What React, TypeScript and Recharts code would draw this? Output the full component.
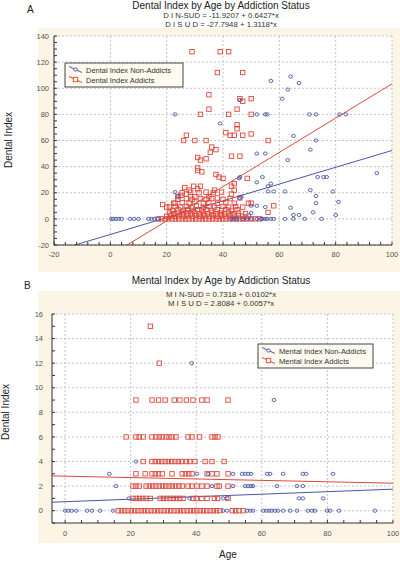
import React from 'react';
import { ScatterChart, Scatter, XAxis, YAxis, CartesianGrid, ReferenceLine } from 'recharts';

const FONT = '"Liberation Sans", Arial, sans-serif';
const BLUE = '#4a56a6';
const RED = '#e0483c';
const TICK_COLOR = '#555';
const AXIS = '#333';

// ---------- Chart A: Dental Index ----------
const dentalTitle = 'Dental Index by Age by Addiction Status';
const dentalEq = ['D I N-SUD = -11.9207 + 0.6427*x', 'D I S U D = -27.7948 + 1.3118*x'];
const dentalNonSlope = [-11.9207, 0.6427];
const dentalSudSlope = [-27.7948, 1.3118];
const dentalLegend = ['Dental Index Non-Addicts', 'Dental Index Addicts'];

const dentalNonAddicts: [number, number][] = [
  [0.4, 0], [1, 0], [2, 0], [3, 0], [4, 0], [7, 0], [8.5, 0], [10, 0], [13.5, 0], [14.6, 0], [15.7, 0], [17, 0],
  [43, 0], [44, 0], [45, 0], [47, 0], [48.6, 0], [50, 0], [52, 0], [53.5, 0], [54, 0], [55, 0], [55.7, 0], [57, 0], [58, 0],
  [62, 0], [65, 0], [69, 0], [75, 0],
  [23, 20.5], [24, 17], [45.7, 31], [46, 16], [23, 80], [39, 73], [46, 91], [57, 105.6], [64, 109], [67, 104], [63, 99],
  [61, 92], [52, 80], [55, 80], [55.7, 80], [70.7, 80], [73, 80], [81.4, 80], [83.6, 80], [65, 63.5], [73, 60], [52, 50],
  [55, 50], [71, 53], [63, 45], [46, 32], [54, 32], [73.6, 32], [75.7, 32], [76.8, 32], [94.6, 35], [52, 28], [57, 27],
  [56, 25], [56, 21], [58, 21], [62, 21], [71, 22], [73, 17.5], [79, 21], [81, 13], [73, 12], [50, 10], [52, 10], [55, 9],
  [64, 8.5], [72, 5], [50, 4.5], [65, 3], [67, 3], [80, 3], [46.5, 17],
];

const dentalAddicts: [number, number][] = [
  [29, 128], [39, 128], [42, 128], [38, 112], [47, 112], [35, 95], [46, 92], [47, 90], [50, 92], [35, 84], [45, 84],
  [32, 80], [42, 80], [50, 80], [45, 72], [45, 69], [41, 66], [42.5, 64], [27, 64], [26, 60], [30, 60], [34, 60], [56, 60],
  [44, 64], [47, 64], [50, 65], [36, 55], [37.5, 53], [35.5, 51], [31, 47], [32, 45], [34, 46], [43, 48], [46, 48],
  [31, 39], [31, 37], [32.5, 36], [37.5, 34], [38.6, 32], [40, 31], [48.6, 31], [44, 27], [29.6, 25], [32, 25], [31, 23],
  [26.4, 24], [28, 22], [43, 25], [44, 22], [43, 19], [37, 22], [35, 17], [38, 16], [25, 18], [27, 19], [28.5, 17],
  [30, 17], [24, 17], [46, 16], [49, 12], [50, 12], [58, 10], [56, 5], [18.6, 11], [21, 9], [23, 12],
  // dense low region
  [17, 0], [18.3, 0], [19.5, 0], [20.7, 0], [21.9, 0], [23.1, 0], [24.3, 0], [25.5, 0], [26.7, 0], [27.9, 0], [29.1, 0],
  [30.3, 0], [31.5, 0], [32.7, 0], [33.9, 0], [35.1, 0], [36.3, 0], [37.5, 0], [38.7, 0], [39.9, 0], [41.1, 0], [42.3, 0],
  [43.5, 0], [44.7, 0], [45.9, 0], [47.1, 0], [48.3, 0], [50, 0], [51.5, 0], [53, 0],
  [20, 2], [21.5, 2.5], [23, 2], [24.5, 2.5], [26, 2], [27.5, 2.5], [29, 2], [30.5, 2.5], [32, 2], [33.5, 2.5], [35, 2],
  [36.5, 2.5], [38, 2], [39.5, 2.5], [41, 2], [42.5, 2.5], [44, 2], [45.5, 2.5], [47, 2], [49, 2],
  [21, 4.5], [22.5, 4], [24, 4.5], [25.5, 4], [27, 4.5], [28.5, 4], [30, 4.5], [31.5, 4], [33, 4.5], [34.5, 4], [36, 4.5],
  [37.5, 4], [39, 4.5], [40.5, 4], [42, 4.5], [43.5, 4], [45.5, 4.5], [48, 4],
  [22, 6.5], [24, 7], [26, 6.5], [27.5, 7], [29, 6.5], [31, 7], [32.5, 6.5], [34, 7], [36, 6.5], [38, 7], [39.5, 6.5],
  [41, 7], [43, 6.5], [45, 7],
  [20, 9], [23, 9.5], [25, 9], [27, 9.5], [29, 9], [30.5, 10], [33, 9], [35, 9.5], [37, 9], [40, 9.5], [42, 9], [44.5, 9.5], [47, 9],
  [22.5, 12], [25.5, 12.5], [28, 12], [30, 13], [33, 12], [35, 12.5], [38, 12], [41, 12.5], [44, 12],
  [24, 15], [27, 15.5], [29, 15], [32, 15.5], [34, 15], [36, 15.5], [40, 15], [42.5, 15.5],
  [25.5, 20], [28.5, 20.5], [31.5, 20], [34, 20.5], [36.5, 20], [39.5, 20.5],
];

const dentalXTicks = [-20, -16, -12, -8, -4, 0, 4, 8, 12, 16, 20, 24, 28, 32, 36, 40, 44, 48, 52, 56, 60, 64, 68, 72, 76, 80, 84, 88, 92, 96, 100];
const dentalXMajor = [-20, 0, 20, 40, 60, 80, 100];
const dentalYTicks = [-20, -15, -10, -5, 0, 5, 10, 15, 20, 25, 30, 35, 40, 45, 50, 55, 60, 65, 70, 75, 80, 85, 90, 95, 100, 105, 110, 115, 120, 125, 130, 135, 140];
const dentalYMajor = [-20, 0, 20, 40, 60, 80, 100, 120, 140];

// ---------- Chart B: Mental Index ----------
const mentalTitle = 'Mental Index by Age by Addiction Status';
const mentalEq = ['M I N-SUD = 0.7318 + 0.0102*x', 'M I S U D = 2.8084 + 0.0057*x'];
const mentalNonSlope = [0.7318, 0.0102];
const mentalSudSlope = [2.8084, -0.0057];
const mentalLegend = ['Mental Index Non-Addicts', 'Mental Index Addicts'];

const mentalAddictRows: [number, number[]][] = [
  [15, [26]],
  [12, [28.7]],
  [9, [21.6, 26.5, 28.5, 30.5, 33.3, 35, 37, 39, 41.7, 43.3, 49.7]],
  [6, [18.6, 21.6, 22.6, 23.8, 26.5, 27.7, 28.7, 29.6, 30.8, 31.7, 32.6, 33.8, 37.5, 38.7, 41, 44.8, 45.7, 46.6]],
  [4, [23.8, 26.5, 27.5, 28.5, 29.5, 30.5, 31.5, 32.5, 33.5, 34.5, 35.5, 37, 38, 39.6, 42.7, 44.8, 48.5]],
  [3, [21.6, 24.4, 26.5, 27.5, 28.5, 29.6, 32.6, 35.7, 36.7, 37.7, 38.7, 43.3, 44.8, 46.3, 49.7]],
  [2, [20.7, 21.6, 22.6, 24.7, 25.7, 26.7, 27.7, 28.7, 29.7, 30.7, 31.7, 32.7, 33.7, 34.7, 35.7, 37.5, 38.7, 40.2, 41.7, 43.3, 46.3, 47, 49.7]],
  [1, [20.7, 21.7, 22.7, 23.7, 24.7, 26, 29, 30, 31, 32, 33, 34, 35, 36, 39, 40, 41.7, 43.3, 45.5, 46.5, 49.7]],
  [0, [16.2, 17.2, 18.2, 19.2, 20.2, 21.2, 22.2, 23.2, 24.2, 25.2, 26.2, 27.2, 28.2, 29.2, 30.2, 31.2, 32.2, 33.2, 34.2, 35.2,
    36.2, 37.2, 38.2, 39.2, 40.2, 41.2, 42.2, 43.2, 44.2, 45.2, 46.2, 47.2, 51, 52, 53, 54.3]],
];

const mentalNonRows: [number, number[]][] = [
  [12, [38.6]],
  [9, [63.7]],
  [4, [21.6]],
  [3, [13.5, 40.2, 43.6, 51.2, 54, 54.9, 55.8, 56.7, 61.6, 62.5, 66.5, 72.5, 73.5, 81.7]],
  [2, [15.5, 44.8, 51.2, 54.9, 55.8, 56.7, 57.3, 64.6, 70.7, 72.5]],
  [1, [19.5, 38, 48.2, 49.4, 71.3, 72.5, 78.7]],
  [0, [0, 1, 2, 3.4, 6.7, 8.2, 10.7, 14.6, 48.2, 49.4, 55.5, 56.4, 57.3, 60.4, 61.3, 62.2, 63, 64, 64.9, 66.5, 68.6, 70.7,
    74.1, 75.3, 76.2, 79.9, 80.8, 83.5, 94.5]],
];

const mentalXTicks = [0, 5, 10, 15, 20, 25, 30, 35, 40, 45, 50, 55, 60, 65, 70, 75, 80, 85, 90, 95, 100];
const mentalXMajor = [0, 20, 40, 60, 80, 100];
const mentalYTicks = [-1, 0, 1, 2, 3, 4, 5, 6, 7, 8, 9, 10, 11, 12, 13, 14, 15, 16];
const mentalYMajor = [0, 2, 4, 6, 8, 10, 12, 14, 16];

const yLabel = 'Dental Index';
const xLabel = 'Age';

// ---------- helpers ----------
const pairs = (arr: [number, number][]) => arr.map(([x, y]) => ({ x, y }));
const rows = (r: [number, number[]][]) => r.flatMap(([v, ages]) => ages.map((a) => ({ x: a, y: v })));
const fmt = (majors: number[]) => (v: number) => (majors.includes(v) ? String(v) : '');
const none = () => '';

const CircleShape = (p: any) => (
  <ellipse cx={p.cx} cy={p.cy} rx={1.9} ry={1.6} fill="none" stroke={BLUE} strokeWidth={0.9} />
);
const SquareShape = (p: any) => (
  <rect x={p.cx - 2.2} y={p.cy - 2.2} width={4.4} height={4.4} fill="none" stroke={RED} strokeWidth={0.9} />
);

const tickStyle = { fontSize: 7.5, fill: TICK_COLOR, fontFamily: FONT };

type PanelProps = {
  height: number;
  top: number;
  marginTop: number;
  marginRight: number;
  yAxisWidth: number;
  xAxisHeight: number;
  xDomain: [number, number];
  yDomain: [number, number];
  xTicks: number[];
  xMajor: number[];
  yTicks: number[];
  yMajor: number[];
  xTickMargin: number;
  yTickMargin: number;
  addicts: { x: number; y: number }[];
  nonAddicts: { x: number; y: number }[];
  nonLine: number[];
  sudLine: number[];
};

function Panel(p: PanelProps) {
  const [x0, x1] = p.xDomain;
  return (
    <div style={{ position: 'absolute', left: 0, top: p.top }}>
      <ScatterChart width={400} height={p.height} margin={{ top: p.marginTop, right: p.marginRight, bottom: 0, left: 0 }}>
        <CartesianGrid
          fill="#ffffff"
          fillOpacity={1}
          stroke="#c4c4c4"
          strokeDasharray="2 2"
          verticalValues={p.xMajor}
          horizontalValues={p.yMajor}
        />
        <XAxis
          type="number"
          dataKey="x"
          domain={p.xDomain}
          allowDataOverflow
          ticks={p.xTicks}
          interval={0}
          height={p.xAxisHeight}
          tickSize={-3}
          tickMargin={p.xTickMargin}
          tickFormatter={fmt(p.xMajor)}
          tick={tickStyle}
          stroke={AXIS}
        />
        <XAxis
          xAxisId="top"
          orientation="top"
          type="number"
          domain={p.xDomain}
          allowDataOverflow
          ticks={p.xTicks}
          interval={0}
          height={0}
          tickSize={-3}
          tickFormatter={none}
          stroke={AXIS}
        />
        <YAxis
          type="number"
          dataKey="y"
          domain={p.yDomain}
          allowDataOverflow
          ticks={p.yTicks}
          interval={0}
          width={p.yAxisWidth}
          tickSize={-3}
          tickMargin={p.yTickMargin}
          tickFormatter={fmt(p.yMajor)}
          tick={tickStyle}
          stroke={AXIS}
        />
        <YAxis
          yAxisId="right"
          orientation="right"
          type="number"
          domain={p.yDomain}
          allowDataOverflow
          ticks={p.yTicks}
          interval={0}
          width={0}
          tickSize={-3}
          tickFormatter={none}
          stroke={AXIS}
        />
        <Scatter data={p.addicts} shape={SquareShape} isAnimationActive={false} />
        <Scatter data={p.nonAddicts} shape={CircleShape} isAnimationActive={false} />
        <ReferenceLine
          segment={[
            { x: x0, y: p.nonLine[0] + p.nonLine[1] * x0 },
            { x: x1, y: p.nonLine[0] + p.nonLine[1] * x1 },
          ]}
          stroke={BLUE}
          strokeWidth={1}
          ifOverflow="hidden"
        />
        <ReferenceLine
          segment={[
            { x: x0, y: p.sudLine[0] + p.sudLine[1] * x0 },
            { x: x1, y: p.sudLine[0] + p.sudLine[1] * x1 },
          ]}
          stroke={RED}
          strokeWidth={1}
          ifOverflow="hidden"
        />
      </ScatterChart>
    </div>
  );
}

function LegendBox({ x, y, w, h, labels, fontSize }: { x: number; y: number; w: number; h: number; labels: string[]; fontSize: number }) {
  const r1 = y + 6.5;
  const r2 = y + 16.5;
  return (
    <g>
      <rect x={x} y={y} width={w} height={h} fill="#fffaf0" stroke="#444" strokeWidth={1} />
      <line x1={x + 4} y1={r1 - 3} x2={x + 17} y2={r1 + 3} stroke={BLUE} strokeWidth={1} />
      <ellipse cx={x + 10.5} cy={r1} rx={1.9} ry={1.6} fill="#fffaf0" stroke={BLUE} strokeWidth={0.9} />
      <line x1={x + 4} y1={r2 - 3} x2={x + 17} y2={r2 + 3} stroke={RED} strokeWidth={1} />
      <rect x={x + 8.3} y={r2 - 2.2} width={4.4} height={4.4} fill="#fffaf0" stroke={RED} strokeWidth={0.9} />
      <text x={x + 21} y={r1 + 3} fontSize={fontSize} fill="#333" fontFamily={FONT}>{labels[0]}</text>
      <text x={x + 21} y={r2 + 3} fontSize={fontSize} fill="#333" fontFamily={FONT}>{labels[1]}</text>
    </g>
  );
}

export default function App() {
  return (
    <div style={{ position: 'absolute', left: 0, top: 0, width: 400, height: 561, background: '#fff', overflow: 'hidden' }}>
      {/* cream backgrounds */}
      <div style={{ position: 'absolute', left: 38, top: 28, width: 362, height: 244, background: '#fcf4e4' }} />
      <div style={{ position: 'absolute', left: 38, top: 291, width: 362, height: 252, background: '#fcf4e4' }} />

      <Panel
        height={275}
        top={0}
        marginTop={36}
        marginRight={8}
        yAxisWidth={54}
        xAxisHeight={30}
        xDomain={[-20, 100]}
        yDomain={[-20, 140]}
        xTicks={dentalXTicks}
        xMajor={dentalXMajor}
        yTicks={dentalYTicks}
        yMajor={dentalYMajor}
        xTickMargin={10}
        yTickMargin={8}
        addicts={pairs(dentalAddicts)}
        nonAddicts={pairs(dentalNonAddicts)}
        nonLine={dentalNonSlope}
        sudLine={dentalSudSlope}
      />
      <Panel
        height={281}
        top={280}
        marginTop={34}
        marginRight={7}
        yAxisWidth={52}
        xAxisHeight={38}
        xDomain={[-4, 100]}
        yDomain={[-1, 16]}
        xTicks={mentalXTicks}
        xMajor={mentalXMajor}
        yTicks={mentalYTicks}
        yMajor={mentalYMajor}
        xTickMargin={11}
        yTickMargin={12}
        addicts={rows(mentalAddictRows)}
        nonAddicts={rows(mentalNonRows)}
        nonLine={mentalNonSlope}
        sudLine={mentalSudSlope}
      />

      <svg width={400} height={561} style={{ position: 'absolute', left: 0, top: 0, pointerEvents: 'none' }}>
        {/* Panel A texts */}
        <text x={27} y={13} fontSize={10} fontFamily={FONT} fill="#222">A</text>
        <text x={221} y={9} fontSize={10} fontFamily={FONT} fill="#222" textAnchor="middle">{dentalTitle}</text>
        <text x={221} y={18} fontSize={7.8} fontFamily={FONT} fill="#333" textAnchor="middle">{dentalEq[0]}</text>
        <text x={221} y={27} fontSize={7.8} fontFamily={FONT} fill="#333" textAnchor="middle">{dentalEq[1]}</text>
        <text x={12} y={140} fontSize={10} fontFamily={FONT} fill="#222" textAnchor="middle" transform="rotate(-90 12 140)">{yLabel}</text>
        <LegendBox x={65} y={63} w={118} h={24} labels={dentalLegend} fontSize={7.5} />

        {/* Panel B texts */}
        <text x={24} y={289} fontSize={10} fontFamily={FONT} fill="#222">B</text>
        <text x={221} y={284} fontSize={10} fontFamily={FONT} fill="#222" textAnchor="middle">{mentalTitle}</text>
        <text x={221} y={297} fontSize={7.8} fontFamily={FONT} fill="#333" textAnchor="middle">{mentalEq[0]}</text>
        <text x={221} y={306} fontSize={7.8} fontFamily={FONT} fill="#333" textAnchor="middle">{mentalEq[1]}</text>
        <text x={8.5} y={412} fontSize={10} fontFamily={FONT} fill="#222" textAnchor="middle" transform="rotate(-90 8.5 412)">{yLabel}</text>
        <text x={228} y={558} fontSize={10} fontFamily={FONT} fill="#222" textAnchor="middle">{xLabel}</text>
        <LegendBox x={258} y={344} w={115} h={24} labels={mentalLegend} fontSize={7.6} />
      </svg>
    </div>
  );
}
